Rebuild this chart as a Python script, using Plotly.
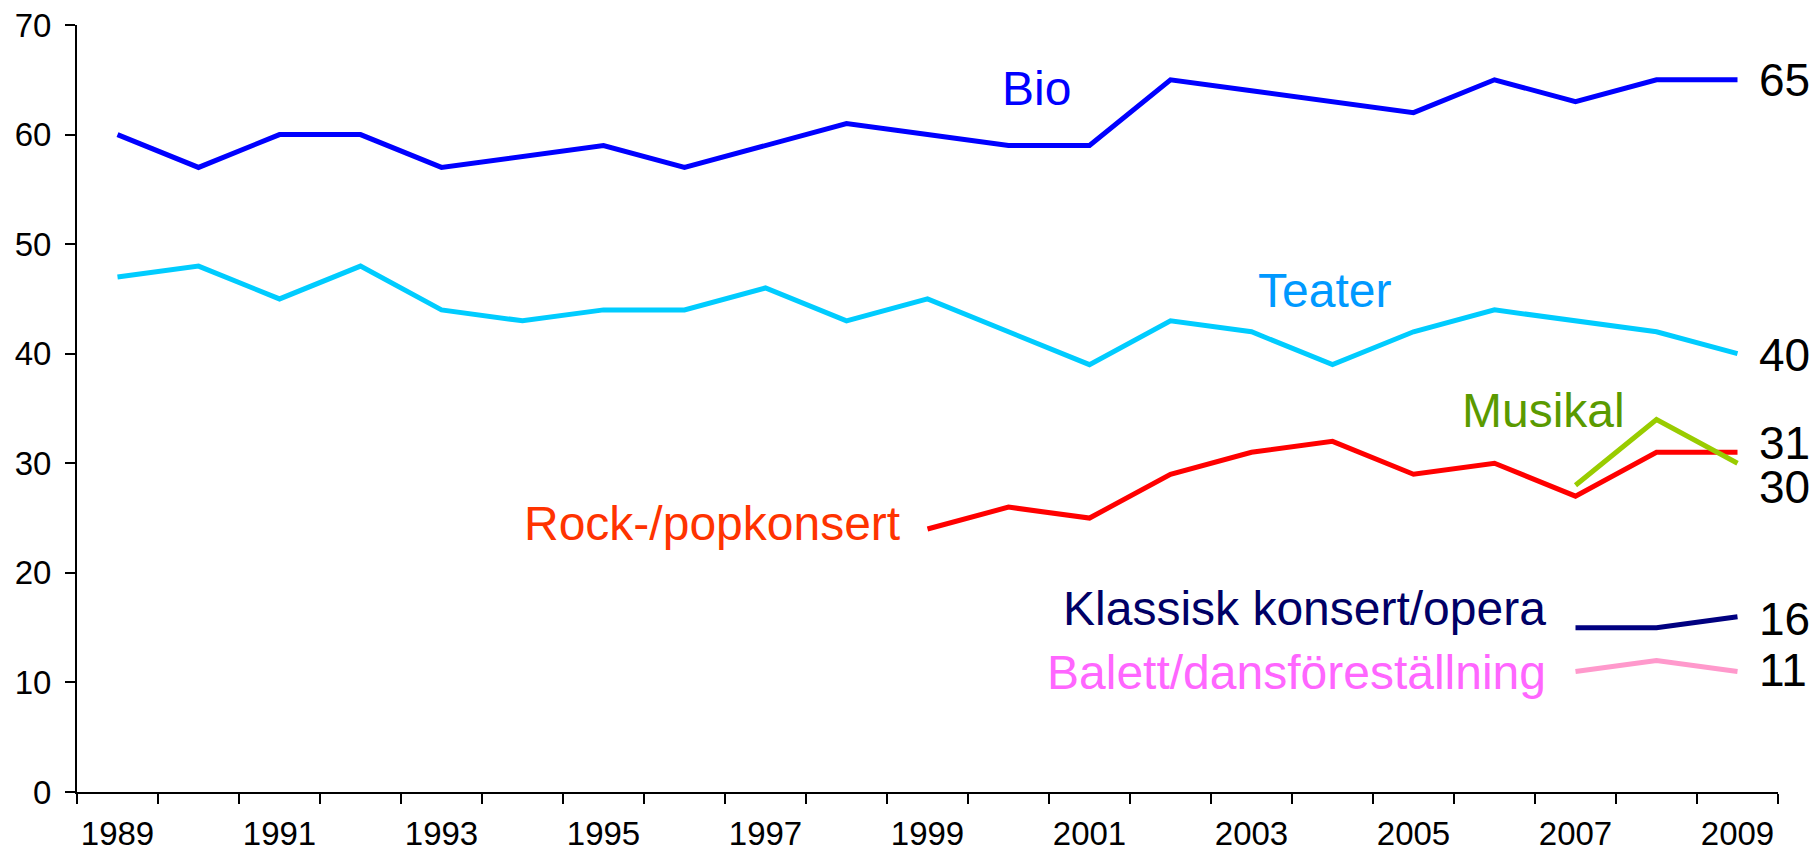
import plotly.graph_objects as go

years = list(range(1989, 2010))
bio = [60, 57, 60, 60, 57, 58, 59, 57, 59, 61, 60, 59, 59, 65, 64, 63, 62, 65, 63, 65, 65]
teater = [47, 48, 45, 48, 44, 43, 44, 44, 46, 43, 45, 42, 39, 43, 42, 39, 42, 44, 43, 42, 40]
rock_years = list(range(1999, 2010))
rock = [24, 26, 25, 29, 31, 32, 29, 30, 27, 31, 31]
late_years = [2007, 2008, 2009]
musikal = [28, 34, 30]
klassisk = [15, 15, 16]
balett = [11, 12, 11]
x_tick_labels = [str(y) for y in range(1989, 2010, 2)]

FONT = "Liberation Sans, Arial, sans-serif"
LW = 5

fig = go.Figure()
series = [
    (years, bio, "#0000FF"),
    (years, teater, "#00CCFF"),
    (rock_years, rock, "#FF0000"),
    (late_years, musikal, "#99CC00"),
    (late_years, klassisk, "#000080"),
    (late_years, balett, "#FF99CC"),
]
for xs, ys, col in series:
    fig.add_trace(go.Scatter(x=xs, y=ys, mode="lines",
                             line=dict(color=col, width=LW),
                             showlegend=False, hoverinfo="skip"))

labels = [
    ("Bio", 2000.34, 64.25, "center", "#0000FF"),
    ("Teater", 2003.9, 45.8, "center", "#0099FF"),
    ("Rock-/popkonsert", 1998.69, 24.46, "right", "#FF3300"),
    ("Musikal", 2006.61, 34.86, "center", "#5A9A00"),
    ("Klassisk konsert/opera", 2006.66, 16.75, "right", "#000066"),
    ("Balett/dansföreställning", 2006.66, 10.9, "right", "#FF66FF"),
]
for txt, x, y, xa, col in labels:
    fig.add_annotation(x=x, y=y, text=txt, xanchor=xa, yanchor="middle",
                       showarrow=False, font=dict(family=FONT, size=48, color=col))

end_vals = [(bio[-1], 65.0), (teater[-1], 39.9), (rock[-1], 31.85),
            (musikal[-1], 27.8), (klassisk[-1], 15.8), (balett[-1], 11.1)]
for v, ypos in end_vals:
    fig.add_annotation(x=2009.24, y=ypos, text=str(v), xanchor="left", yanchor="middle",
                       showarrow=False, font=dict(family=FONT, size=46, color="black"))

fig.update_layout(
    width=1811, height=854,
    margin=dict(l=77, r=33, t=25, b=62, autoexpand=False),
    paper_bgcolor="white", plot_bgcolor="white",
    font=dict(family=FONT, color="black"),
)
fig.update_xaxes(
    range=[1988.5, 2009.5], tickvals=list(range(1989, 2010, 2)), ticktext=x_tick_labels,
    ticks="", showgrid=False, zeroline=False, automargin=False,
    showline=True, linecolor="black", linewidth=2,
    tickfont=dict(family=FONT, size=33, color="black"),
    ticklabelstandoff=11,
    minor=dict(tick0=1988.5, dtick=1, ticks="outside", ticklen=10, tickwidth=2,
               tickcolor="black", showgrid=False),
)
fig.update_yaxes(
    range=[0, 70], dtick=10, ticks="outside", ticklen=10, tickwidth=2, tickcolor="black",
    showgrid=False, zeroline=False, showline=True, linecolor="black", linewidth=2,
    automargin=False,
    tickfont=dict(family=FONT, size=33, color="black"),
    ticklabelstandoff=7,
)
fig.write_html("out.html", config={"displayModeBar": False},
               post_script="document.body.style.margin='0';document.body.style.overflow='hidden';")
